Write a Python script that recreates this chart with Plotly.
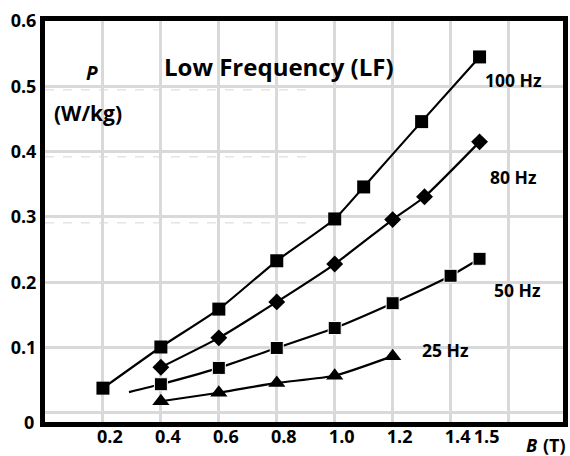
import plotly.graph_objects as go

# ---- data ----
B_100 = [0.2, 0.4, 0.6, 0.8, 1.0, 1.1, 1.3, 1.5]
P_100 = [0.038, 0.101, 0.159, 0.233, 0.297, 0.346, 0.446, 0.545]

B_80 = [0.4, 0.6, 0.8, 1.0, 1.2, 1.31, 1.5]
P_80 = [0.070, 0.115, 0.170, 0.228, 0.296, 0.331, 0.415]

B_50 = [0.29, 0.4, 0.6, 0.8, 1.0, 1.2, 1.4, 1.5]
P_50 = [0.032, 0.044, 0.069, 0.0995, 0.130, 0.168, 0.210, 0.236]
marker_50 = [False, True, True, True, True, True, True, True]

B_25 = [0.4, 0.6, 0.8, 1.0, 1.2]
P_25 = [0.018, 0.031, 0.046, 0.057, 0.087]

x_tick_vals = [0.2, 0.4, 0.6, 0.8, 1.0, 1.2, 1.4, 1.5]
x_tick_text = ["0.2", "0.4", "0.6", "0.8", "1.0", "1.2", "1.4", "1.5"]
x_grid_vals = [0.2, 0.4, 0.6, 0.8, 1.0, 1.2, 1.4, 1.6]
y_tick_vals = [0.1, 0.2, 0.3, 0.4, 0.5, 0.6]
y_tick_text = ["0.1", "0.2", "0.3", "0.4", "0.5", "0.6"]
y_grid_vals = [0.0, 0.1, 0.2, 0.3, 0.4, 0.5]

series_labels = ["100 Hz", "80 Hz", "50 Hz", "25 Hz"]

FONT = "Open Sans"
X_MIN, X_MAX = 0.0, 1.788
Y_MIN, Y_MAX = -0.0138, 0.6

fig = go.Figure()
line_style = dict(color="black", width=2.2, shape="spline", smoothing=0.5)

fig.add_trace(go.Scatter(x=B_100, y=P_100, mode="lines+markers", line=line_style,
                         marker=dict(symbol="square", size=13, color="black", opacity=1)))
fig.add_trace(go.Scatter(x=B_80, y=P_80, mode="lines+markers", line=line_style,
                         marker=dict(symbol="diamond", size=13, color="black", opacity=1)))
fig.add_trace(go.Scatter(x=B_50, y=P_50, mode="lines+markers", line=line_style,
                         marker=dict(symbol="square", color="black", opacity=1,
                                     size=[13 if m else 0 for m in marker_50])))
fig.add_trace(go.Scatter(x=B_25, y=P_25, mode="lines+markers", line=line_style,
                         marker=dict(symbol="triangle-up", size=15, color="black", opacity=1)))

# series labels placed near the right end of each curve
label_pos = [(1.617, 0.510), (1.617, 0.3614), (1.631, 0.1884), (1.381, 0.0965)]
for txt, (lx, ly) in zip(series_labels, label_pos):
    fig.add_annotation(x=lx, y=ly, text=f"<b>{txt}</b>", showarrow=False,
                       font=dict(family=FONT, size=17.5, color="black"))

fig.add_annotation(x=0.806, y=0.530, text="<b>Low Frequency (LF)</b>", showarrow=False,
                   font=dict(family=FONT, size=24, color="black"))
fig.add_annotation(x=0.163, y=0.521, text="<b><i>P</i></b>", showarrow=False,
                   font=dict(family=FONT, size=19, color="black"))
fig.add_annotation(x=0.150, y=0.459, text="<b>(W/kg)</b>", showarrow=False,
                   font=dict(family=FONT, size=21, color="black"))
fig.add_annotation(x=1.68, y=Y_MIN, yshift=-23, yanchor="middle", text="<b><i>B</i></b>",
                   showarrow=False, font=dict(family=FONT, size=18, color="black"))
fig.add_annotation(x=1.76, y=Y_MIN, yshift=-23, yanchor="middle", text="<b>(T)</b>",
                   showarrow=False, font=dict(family=FONT, size=18, color="black"))
fig.add_annotation(xref="paper", x=0, xanchor="right", xshift=-9, y=Y_MIN, yanchor="middle",
                   text="<b>0</b>", showarrow=False,
                   font=dict(family=FONT, size=18, color="black"))

# faint dashed artefact lines in the upper-left of the original
for dy in [0.4946, 0.392, 0.291]:
    fig.add_shape(type="line", x0=X_MIN, x1=0.906, y0=dy, y1=dy, xref="x", yref="y",
                  line=dict(color="#d6d6d6", width=1, dash="dash"), layer="below")

grid_color = "#d9d9d9"
fig.update_layout(
    width=570, height=456,
    margin=dict(l=45, r=2, t=21, b=34),
    paper_bgcolor="white", plot_bgcolor="white",
    showlegend=False,
    font=dict(family=FONT, size=18, color="black"),
    xaxis=dict(range=[X_MIN, X_MAX], tickvals=x_tick_vals,
               ticktext=[f"<b>{t}</b>" for t in x_tick_text],
               showgrid=False, zeroline=False, ticks="",
               ticklabelshift=7, ticklabelstandoff=-6,
               showline=True, linecolor="black", linewidth=5, mirror=True,
               minor=dict(tickvals=x_grid_vals, showgrid=True,
                          gridcolor=grid_color, gridwidth=3, ticks="")),
    yaxis=dict(range=[Y_MIN, Y_MAX], tickvals=y_tick_vals,
               ticktext=[f"<b>{t}</b>" for t in y_tick_text],
               showgrid=False, zeroline=False, ticks="",
               showline=True, linecolor="black", linewidth=5, mirror=True,
               minor=dict(tickvals=y_grid_vals, showgrid=True,
                          gridcolor=grid_color, gridwidth=3, ticks="")),
)

fig.write_html("out.html", config={"displayModeBar": False},
               post_script="document.body.style.margin='0';document.body.style.overflow='hidden';")
